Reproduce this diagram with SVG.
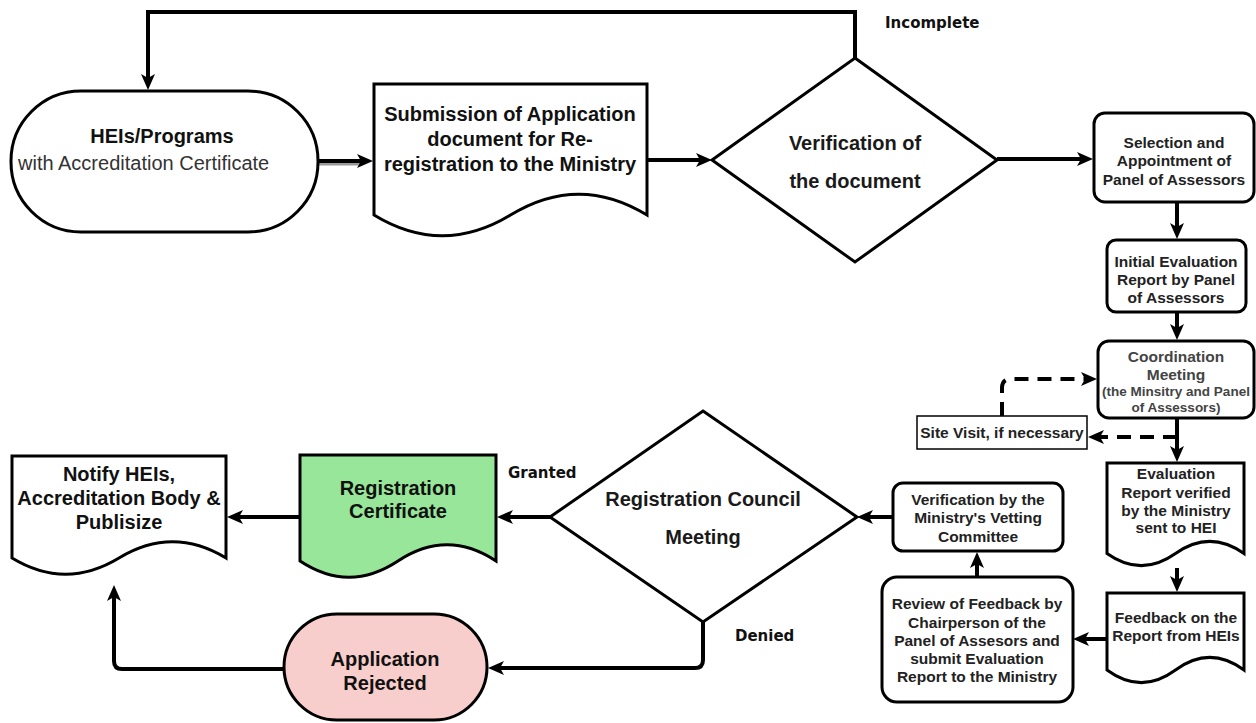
<svg xmlns="http://www.w3.org/2000/svg" width="1256" height="723" viewBox="0 0 1256 723">
  <defs>
    <marker id="arr" viewBox="0 0 16 14" refX="4" refY="7" markerWidth="16" markerHeight="14" markerUnits="userSpaceOnUse" orient="auto">
      <path d="M0,0 L16,7 L0,14 L4,7 Z" fill="#000"/>
    </marker>
    <style>
      .shape{fill:#fff;stroke:#000;stroke-width:3;}
      .con{fill:none;stroke:#000;stroke-width:4;marker-end:url(#arr);}
      .dash{fill:none;stroke:#000;stroke-width:4;stroke-dasharray:14 9;marker-end:url(#arr);}
      .t20{font-family:"Liberation Sans",Arial,sans-serif;font-size:20px;font-weight:bold;fill:#111;text-anchor:middle;}
      .t15{font-family:"Liberation Sans",Arial,sans-serif;font-size:15.5px;font-weight:bold;fill:#222;text-anchor:middle;}
      .dec{font-family:"Liberation Sans",Arial,sans-serif;font-size:20px;font-weight:bold;fill:#1a1a1a;text-anchor:middle;}
      .co{font-family:"Liberation Sans",Arial,sans-serif;font-weight:bold;fill:#444;text-anchor:middle;}
      .lbl{font-family:"DejaVu Sans",Verdana,sans-serif;font-size:15px;font-weight:bold;fill:#111;}
    </style>
  </defs>

  <g id="connectors">
    <path class="con" d="M855,58 V12 H148 V78"/>
    <path d="M318,164 H362" stroke="#999" stroke-width="3" fill="none"/>
    <path class="con" d="M318,161 H361"/>
    <path class="con" d="M647,160 H700"/>
    <path class="con" d="M997,159 H1081"/>
    <path class="con" d="M1177,202 V227"/>
    <path class="con" d="M1177,312 V328"/>
    <path class="con" d="M1177,418 V450"/>
    <path class="con" d="M1177,568 V580"/>
    <path class="con" d="M1107,639 H1085"/>
    <path class="con" d="M977,577 V564"/>
    <path class="con" d="M893,517 H869"/>
    <path class="con" d="M550,517 H509"/>
    <path class="con" d="M300,517 H239"/>
    <path class="con" d="M703,622 V660 Q703,668 695,668 H500"/>
    <path class="con" d="M283,669 H122 Q114,669 114,661 V597"/>
    <path class="dash" d="M1002,416 V388 Q1002,379 1011,379 H1085"/>
    <path class="dash" d="M1177,437 H1100"/>
  </g>

  <text class="lbl" x="885" y="28">Incomplete</text>
  <text class="lbl" x="508" y="478">Granted</text>
  <text class="lbl" x="735" y="641">Denied</text>

  <g id="hei">
    <rect class="shape" x="11" y="91" width="307" height="141" rx="70" ry="70"/>
    <text class="t20" x="162" y="143">HEIs/Programs</text>
    <text x="18" y="170" style="font-family:'Liberation Sans',Arial,sans-serif;font-size:20px;fill:#333;">with Accreditation Certificate</text>
  </g>

  <g id="submission">
    <path class="shape" d="M374,84 H647 V215 Q578.75,173.3 510.5,215 Q442.25,256.5 374,215 Z"/>
    <text class="t20" x="510" y="121">Submission of Application</text>
    <text class="t20" x="510" y="146">document for Re-</text>
    <text class="t20" x="510" y="171">registration to the Ministry</text>
  </g>

  <g id="verification">
    <path class="shape" d="M855,58 L997,160 L855,262 L712,160 Z"/>
    <text class="dec" x="855" y="150">Verification of</text>
    <text class="dec" x="855" y="188">the document</text>
  </g>

  <g id="selection">
    <rect class="shape" x="1094" y="113" width="160" height="89" rx="11"/>
    <text class="t15" x="1174" y="148">Selection and</text>
    <text class="t15" x="1174" y="166">Appointment of</text>
    <text class="t15" x="1174" y="185">Panel of Assessors</text>
  </g>

  <g id="initial">
    <rect class="shape" x="1107" y="240" width="139" height="72" rx="9"/>
    <text class="t15" x="1176" y="267">Initial Evaluation</text>
    <text class="t15" x="1176" y="285">Report by Panel</text>
    <text class="t15" x="1176" y="303">of Assessors</text>
  </g>

  <g id="coordination">
    <rect class="shape" x="1098" y="341" width="156" height="77" rx="11"/>
    <text class="co" x="1176" y="362" font-size="15.5">Coordination</text>
    <text class="co" x="1176" y="380" font-size="15.5">Meeting</text>
    <text class="co" x="1176" y="396" font-size="13.5">(the Minsitry and Panel</text>
    <text class="co" x="1176" y="412" font-size="13.5">of Assessors)</text>
  </g>

  <g id="sitevisit">
    <rect x="917" y="416" width="170" height="33" fill="#fff" stroke="#000" stroke-width="1.5"/>
    <text class="t15" x="1002" y="438">Site Visit, if necessary</text>
  </g>

  <g id="evaluation">
    <path class="shape" d="M1107,463 H1244 V553.5 Q1209.75,529.2 1175.5,553.5 Q1141.25,577.8 1107,553.5 Z"/>
    <text class="t15" x="1176" y="479">Evaluation</text>
    <text class="t15" x="1176" y="498">Report verified</text>
    <text class="t15" x="1176" y="516">by the Ministry</text>
    <text class="t15" x="1176" y="533">sent to HEI</text>
  </g>

  <g id="feedback">
    <path class="shape" d="M1107,593 H1244 V670 Q1209.75,644.8 1175.5,670 Q1141.25,695.2 1107,670 Z"/>
    <text class="t15" x="1176" y="623">Feedback on the</text>
    <text class="t15" x="1176" y="641">Report from HEIs</text>
  </g>

  <g id="review">
    <rect class="shape" x="882" y="577" width="191" height="125" rx="15"/>
    <text class="t15" x="977" y="609">Review of Feedback by</text>
    <text class="t15" x="977" y="628">Chairperson of the</text>
    <text class="t15" x="977" y="646">Panel of Assesors and</text>
    <text class="t15" x="977" y="664">submit Evaluation</text>
    <text class="t15" x="977" y="682">Report to the Ministry</text>
  </g>

  <g id="vetting">
    <rect class="shape" x="893" y="483" width="170" height="68" rx="10"/>
    <text class="t15" x="978" y="505">Verification by the</text>
    <text class="t15" x="978" y="523">Ministry's Vetting</text>
    <text class="t15" x="978" y="542">Committee</text>
  </g>

  <g id="council">
    <path class="shape" d="M703,411 L857,517 L703,622 L550,517 Z"/>
    <text class="dec" x="703" y="506">Registration Council</text>
    <text class="dec" x="703" y="544">Meeting</text>
  </g>

  <g id="certificate">
    <path d="M300,455 H496 V561 Q447,528.6 398,561 Q349,593.4 300,561 Z" fill="#98E69A" stroke="#000" stroke-width="3"/>
    <text class="t20" x="398" y="495">Registration</text>
    <text class="t20" x="398" y="518">Certificate</text>
  </g>

  <g id="notify">
    <path class="shape" d="M12,456 H226 V558 Q172.5,525.6 119,558 Q65.5,590.4 12,558 Z"/>
    <text class="t20" x="119" y="481">Notify HEIs,</text>
    <text class="t20" x="119" y="505">Accreditation Body &amp;</text>
    <text class="t20" x="119" y="529">Publisize</text>
  </g>

  <g id="rejected">
    <rect x="284" y="614" width="203" height="106" rx="53" ry="53" fill="#F8CECC" stroke="#000" stroke-width="3"/>
    <text class="t20" x="385" y="666">Application</text>
    <text class="t20" x="385" y="690">Rejected</text>
  </g>
</svg>
